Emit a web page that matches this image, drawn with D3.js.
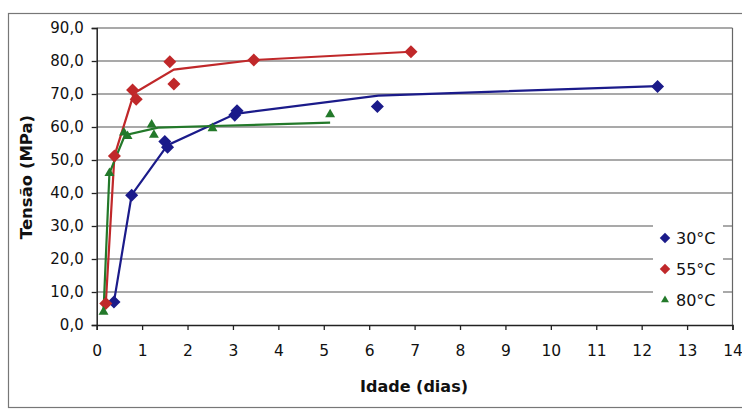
<!DOCTYPE html>
<html>
<head>
<meta charset="utf-8">
<script src="https://cdn.jsdelivr.net/npm/d3@7"></script>
<style>
  body { margin: 0; background: #fff; }
  svg { font-family: "DejaVu Sans", sans-serif; }
</style>
</head>
<body>
<svg id="chart" width="742" height="410"></svg>
<script>
// measured points (days, MPa)
var days30 = [0.38, 0.77, 1.50, 1.56, 3.04, 3.09, 6.18, 12.35];
var mpa30  = [7.0, 39.3, 55.6, 53.9, 63.6, 64.9, 66.2, 72.3];
var days55 = [0.20, 0.39, 0.79, 0.87, 1.61, 1.70, 3.46, 6.92];
var mpa55  = [6.5, 51.2, 71.2, 68.4, 79.8, 73.0, 80.3, 82.8];
var days80 = [0.15, 0.28, 0.60, 0.68, 1.21, 1.26, 2.55, 5.14];
var mpa80  = [4.0, 46.0, 58.3, 57.2, 60.7, 57.6, 59.6, 63.8];

// fitted curves
var fitDays30 = [0.38, 0.77, 1.56, 3.06, 6.2, 12.35];
var fitMpa30  = [7.0, 39.4, 54.5, 64.0, 69.5, 72.4];
var fitDays55 = [0.20, 0.39, 0.82, 1.70, 3.46, 6.92];
var fitMpa55  = [6.5, 51.2, 70.2, 77.4, 80.3, 82.8];
var fitDays80 = [0.15, 0.28, 0.62, 1.35, 2.55, 5.14];
var fitMpa80  = [4.0, 46.0, 57.5, 59.8, 60.3, 61.3];

var seriesNames = ["30°C", "55°C", "80°C"];
var xTicks = d3.range(0, 15, 1);
var yTicks = d3.range(0, 100, 10);

var colors = ["#1b1b8a", "#c0282a", "#23792a"];

var svg = d3.select("#chart");

// outer chart frame
svg.append("rect")
    .attr("x", 8.5).attr("y", 13.5)
    .attr("width", 740).attr("height", 394)
    .attr("fill", "none")
    .attr("stroke", "#777")
    .attr("stroke-width", 1.2);

var plotL = 96.7, plotR = 732.5, plotT = 28, plotB = 325;

var x = d3.scaleLinear().domain([0, 14]).range([plotL, plotR]);
var y = d3.scaleLinear().domain([0, 90]).range([plotB, plotT]);

// diamond = rotated square, triangle as is
function marker(i, size) {
    if (i == 2) return d3.symbol().type(d3.symbolTriangle).size(size * 0.5)();
    return d3.symbol().type(d3.symbolSquare).size(size)();
}
function markerRot(i) { return i == 2 ? "" : " rotate(45)"; }

// gridlines
svg.append("g")
    .selectAll("line")
    .data(yTicks.filter(function(d) { return d > 0; }))
    .enter().append("line")
    .attr("x1", plotL).attr("x2", plotR)
    .attr("y1", function(d) { return y(d); })
    .attr("y2", function(d) { return y(d); })
    .attr("stroke", "#555")
    .attr("stroke-width", 1.2);

// right edge of plot area
svg.append("line")
    .attr("x1", plotR).attr("x2", plotR)
    .attr("y1", plotT).attr("y2", plotB)
    .attr("stroke", "#666").attr("stroke-width", 1.2);

// axes
var xAxis = svg.append("g")
    .attr("transform", "translate(0," + plotB + ")")
    .call(d3.axisBottom(x).tickValues(xTicks).tickSize(5).tickPadding(15)
        .tickFormat(d3.format("d")));
var yAxis = svg.append("g")
    .attr("transform", "translate(" + plotL + ",0)")
    .call(d3.axisLeft(y).tickValues(yTicks).tickSize(5).tickPadding(8)
        .tickFormat(function(d) { return d.toFixed(1).replace(".", ","); }));

[xAxis, yAxis].forEach(function(a) {
    a.select(".domain").attr("stroke", "#222").attr("stroke-width", 1.5);
    a.selectAll(".tick line").attr("stroke", "#222").attr("stroke-width", 1.3);
    a.selectAll("text")
        .attr("font-size", 15)
        .attr("font-family", "DejaVu Sans, sans-serif")
        .attr("fill", "#111");
});
xAxis.selectAll("text").attr("font-size", 15.5);

// axis titles
svg.append("text")
    .attr("x", 414).attr("y", 392)
    .attr("text-anchor", "middle")
    .attr("font-size", 16).attr("font-weight", "bold")
    .attr("fill", "#111")
    .text("Idade (dias)");

svg.append("text")
    .attr("transform", "translate(32,177) rotate(-90)")
    .attr("text-anchor", "middle")
    .attr("font-size", 16.5).attr("font-weight", "bold")
    .attr("fill", "#111")
    .text("Tensão (MPa)");

// lines and markers
var fits = [[fitDays30, fitMpa30], [fitDays55, fitMpa55], [fitDays80, fitMpa80]];
var points = [[days30, mpa30], [days55, mpa55], [days80, mpa80]];

var line = d3.line()
    .x(function(d) { return x(d[0]); })
    .y(function(d) { return y(d[1]); });

fits.forEach(function(f, i) {
    svg.append("path")
        .datum(d3.zip(f[0], f[1]))
        .attr("d", line)
        .attr("fill", "none")
        .attr("stroke", colors[i])
        .attr("stroke-width", 2.2);
});

points.forEach(function(p, i) {
    svg.append("g")
        .selectAll("path")
        .data(d3.zip(p[0], p[1]))
        .enter().append("path")
        .attr("transform", function(d) {
            return "translate(" + x(d[0]) + "," + y(d[1]) + ")" + markerRot(i);
        })
        .attr("d", marker(i, 85))
        .attr("fill", colors[i]);
});

// legend
var legend = svg.append("g");
legend.append("rect")
    .attr("x", 653).attr("y", 222)
    .attr("width", 70).attr("height", 92)
    .attr("fill", "#fff");

seriesNames.forEach(function(name, i) {
    var ly = 238 + i * 31;
    legend.append("path")
        .attr("transform", "translate(665," + ly + ")" + markerRot(i))
        .attr("d", marker(i, 55))
        .attr("fill", colors[i]);
    legend.append("text")
        .attr("x", 676).attr("y", ly + 6)
        .attr("font-size", 16)
        .attr("fill", "#111")
        .text(name);
});
</script>
</body>
</html>
